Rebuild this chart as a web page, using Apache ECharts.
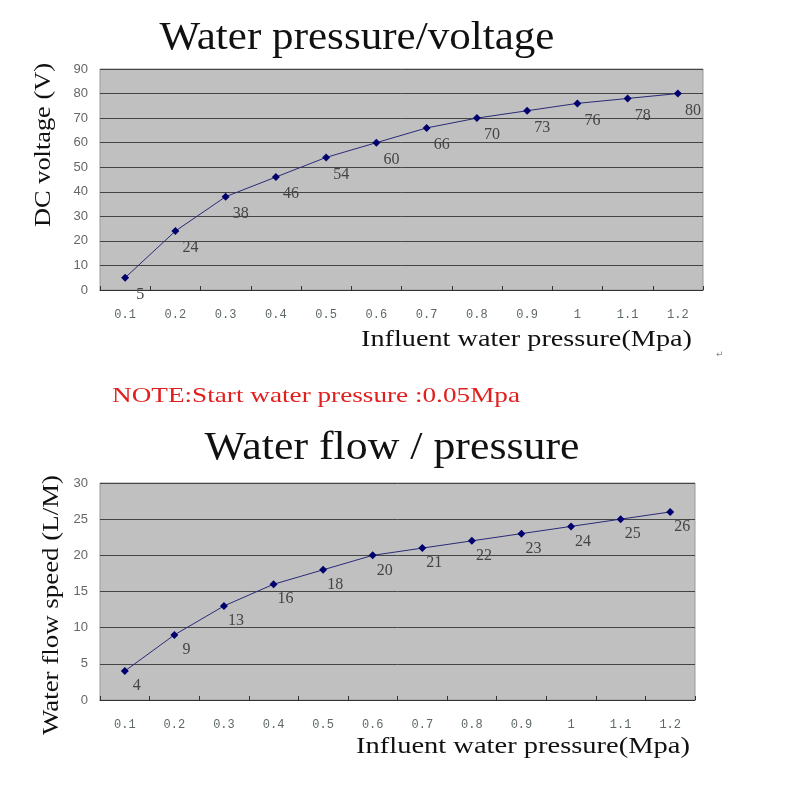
<!DOCTYPE html>
<html>
<head>
<meta charset="utf-8">
<script src="https://cdn.jsdelivr.net/npm/echarts@6/dist/echarts.min.js"></script>
<style>html,body{margin:0;padding:0;background:#fff}#c{width:800px;height:800px}</style>
</head>
<body>
<div id="c"></div>
<script>
var categories = ['0.1','0.2','0.3','0.4','0.5','0.6','0.7','0.8','0.9','1','1.1','1.2'];
var voltageValues = [5,24,38,46,54,60,66,70,73,76,78,80];
var flowValues = [4,9,13,16,18,20,21,22,23,24,25,26];
var voltageTicks = {min:0, max:90, interval:10};
var flowTicks = {min:0, max:30, interval:5};

var chart = echarts.init(document.getElementById('c'), null, {renderer:'canvas'});
var mono = '"Liberation Mono", monospace';
var serif = '"Liberation Serif", "DejaVu Serif", serif';
var measureCtx = document.createElement('canvas').getContext('2d');

function xAxisDef(idx){
  return {
    type:'category', gridIndex:idx, data:categories, boundaryGap:true,
    axisLine:{show:true, lineStyle:{color:'#333', width:1}},
    axisTick:{show:true, inside:true, length:4, lineStyle:{color:'#333'}},
    axisLabel:{margin:19, color:'#5f6868', fontFamily:mono, fontSize:12},
    splitLine:{show:false}
  };
}
function yAxisDef(idx, t){
  return {
    type:'value', gridIndex:idx, min:t.min, max:t.max, interval:t.interval,
    axisLine:{show:false}, axisTick:{show:false},
    axisLabel:{margin:12, color:'#666', fontFamily:'"Liberation Sans", Arial, sans-serif', fontSize:13},
    splitLine:{show:true, lineStyle:{color:'#444', width:1}}
  };
}
function seriesDef(idx, vals, off){
  return {
    type:'line', xAxisIndex:idx, yAxisIndex:idx, data:vals,
    symbol:'diamond', symbolSize:8, smooth:false,
    lineStyle:{color:'#2a2a78', width:1},
    itemStyle:{color:'#00006e'},
    label:{show:true, position:'inside', offset:off, color:'#444',
      fontFamily:serif, fontSize:16},
    animation:false
  };
}
// text stretched horizontally to span the width it takes in the reference
function txt(text, x, y, size, width, sy, color, align, rot){
  var font = size + 'px ' + serif;
  measureCtx.font = font;
  var w = measureCtx.measureText(text).width;
  return {type:'text', x:x, y:y, rotation:rot||0, scaleX:width/w, scaleY:sy,
    style:{text:text, font:font, fill:color,
      textAlign:align, textVerticalAlign:'middle', align:align, verticalAlign:'middle'}};
}

chart.setOption({
  animation:false,
  backgroundColor:'#fff',
  grid:[
    {left:100, top:69, width:603, height:221, show:true, backgroundColor:'#c0c0c0', borderColor:'#9a9a9a', borderWidth:1},
    {left:100, top:483, width:595, height:217, show:true, backgroundColor:'#c0c0c0', borderColor:'#9a9a9a', borderWidth:1}
  ],
  xAxis:[xAxisDef(0), xAxisDef(1)],
  yAxis:[yAxisDef(0, voltageTicks), yAxisDef(1, flowTicks)],
  series:[seriesDef(0, voltageValues, [15,17]), seriesDef(1, flowValues, [12,15])],
  graphic:[
    txt('Water pressure/voltage', 357, 39, 36, 395, 1.1, '#111', 'center'),
    txt('Influent water pressure(Mpa)', 692, 340, 21, 331, 1.05, '#111', 'right'),
    txt('DC voltage (V)', 44, 145, 21, 164, 1.05, '#111', 'center', Math.PI/2),
    txt('NOTE:Start water pressure :0.05Mpa', 112, 396, 20, 408, 1.05, '#e0201e', 'left'),
    txt('Water flow / pressure', 392, 449, 36, 375, 1.1, '#111', 'center'),
    txt('Influent water pressure(Mpa)', 690, 747, 21, 334, 1.05, '#111', 'right'),
    txt('Water flow speed (L/M)', 52, 605, 21, 260, 1.05, '#111', 'center', Math.PI/2),
    {type:'text', x:716, y:355, style:{text:'\u21b5', font:'9px "DejaVu Sans"', fill:'#888', textAlign:'left', textVerticalAlign:'middle'}}
  ]
});
</script>
</body>
</html>
